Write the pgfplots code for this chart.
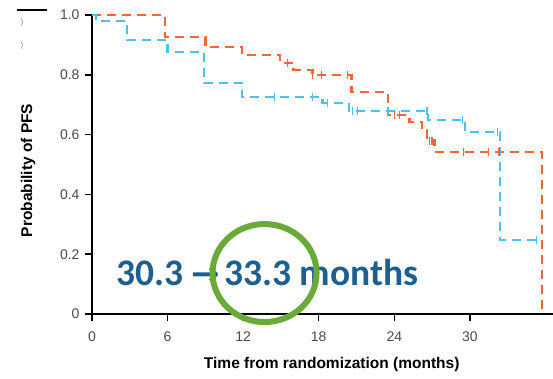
\documentclass[border=0pt]{standalone}
\usepackage{pgfplots}
\pgfplotsset{compat=1.18}
\usetikzlibrary{calc}
\usepackage{fontspec}
\setmainfont{Liberation Sans}
\newfontfamily\carlito{Carlito}
\newfontfamily\dejavu{DejaVu Sans}
\definecolor{kmorange}{HTML}{F0673A}
\definecolor{kmblue}{HTML}{4FC0EC}
\definecolor{annblue}{HTML}{1D5F8E}
\definecolor{ringgreen}{HTML}{6AAA3A}
\definecolor{tickgray}{HTML}{4A4A4A}
\begin{document}
\begin{tikzpicture}
\begin{axis}[
  width=461pt, height=299pt, scale only axis,
  xmin=0, xmax=36.6, ymin=0, ymax=1,
  axis x line=bottom, axis y line=left,
  axis line style={-, line width=1.8pt, black},
  xtick={0,6,12,18,24,30},
  ytick={0,0.2,0.4,0.6,0.8,1},
  yticklabels={0,0.2,0.4,0.6,0.8,1.0},
  tick align=outside, major tick length=7pt,
  tick style={line width=1.5pt, black},
  /pgf/number format/assume math mode=true,
  ticklabel style={font=\fontsize{14}{14}\selectfont, text=tickgray},
  xticklabel style={yshift=-7pt},
  yticklabel style={xshift=-2pt},
  clip=false,
  xlabel={Time from randomization (months)},
  ylabel={Probability of PFS},
  every axis x label/.style={at={(axis description cs:0.52,0)}, yshift=-50pt, anchor=center, font=\bfseries\fontsize{15.5}{15.5}\selectfont},
  every axis y label/.style={at={(axis description cs:0,0.48)}, xshift=-64pt, rotate=90, anchor=center, font=\bfseries\fontsize{15.5}{15.5}\selectfont},
]
\addplot[const plot, kmorange, line width=2.3pt, dash pattern=on 9pt off 6pt] coordinates {
(0,1.0) (5.8,0.926) (9.0,0.893) (11.9,0.866) (14.9,0.84) (16.0,0.816) (17.5,0.80) (20.6,0.742) (23.5,0.666) (25.2,0.642) (26.2,0.615) (26.6,0.58) (27.2,0.542) (35.7,0.542) (35.7,0)
};
\addplot[const plot, kmblue, line width=2.3pt, dash pattern=on 9pt off 6pt] coordinates {
(0,1.0) (0.3,0.98) (2.8,0.916) (6.0,0.876) (8.9,0.772) (11.9,0.726) (18.3,0.706) (20.4,0.68) (26.7,0.649) (29.6,0.609) (32.4,0.247) (35.3,0.247)
};
\addplot[only marks, mark=|, mark size=4pt, kmorange, mark options={line width=1.4pt}] coordinates {
(15.5,0.84) (17.5,0.80) (18.2,0.80) (20.3,0.80) (24.0,0.666) (24.4,0.666) (26.8,0.58) (27.0,0.58) (29.5,0.542) (31.5,0.542) (32.3,0.542)
};
\addplot[only marks, mark=|, mark size=4pt, kmblue, mark options={line width=1.4pt}] coordinates {
(14.5,0.726) (17.5,0.726) (18.7,0.706) (20.7,0.68) (21.1,0.68) (23.5,0.68) (26.6,0.68) (29.4,0.649) (32.2,0.609) (35.3,0.247)
};
\node[anchor=west, inner sep=0pt, text=annblue, font=\carlito\bfseries\fontsize{37.5}{37.5}\selectfont] at (axis cs:1.95,0.14) {30.3\hspace{0.2em}{\dejavu\bfseries\fontsize{34}{34}\selectfont →}\hspace{0.12em}33.3 months};
\draw[ringgreen, line width=6pt] (axis cs:13.7,0.137) ellipse [x radius=52pt, y radius=49pt];
\coordinate (O) at (axis cs:0,0);
\end{axis}
\draw[black, line width=1.5pt] ($(O)+(-75pt,304pt)$) -- ($(O)+(-45pt,304pt)$);
\node[text=gray, font=\fontsize{8}{8}\selectfont] at ($(O)+(-70pt,292pt)$) {)};
\node[text=gray, font=\fontsize{8}{8}\selectfont] at ($(O)+(-70pt,269pt)$) {)};
\pgfresetboundingbox
\path (O) ++(-92pt,-65pt) rectangle ++(553pt,379pt);
\end{tikzpicture}
\end{document}
